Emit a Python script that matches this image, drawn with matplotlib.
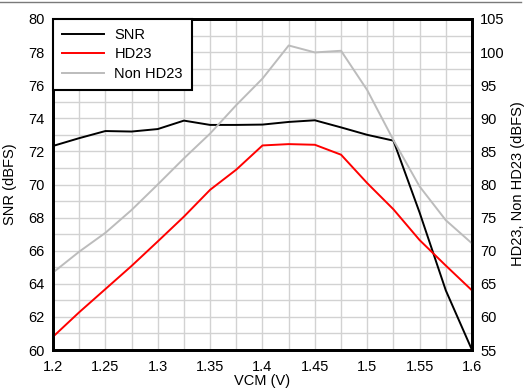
import matplotlib
matplotlib.use('Agg')
import matplotlib.pyplot as plt
from matplotlib.lines import Line2D

plt.rcParams['font.family'] = ['Liberation Sans', 'DejaVu Sans']
plt.rcParams['font.size'] = 10.5

vcm = [1.2, 1.225, 1.25, 1.275, 1.3, 1.325, 1.35, 1.375, 1.4,
       1.425, 1.45, 1.475, 1.5, 1.525, 1.55, 1.575, 1.6]
# SNR (dBFS), left axis
snr = [72.33, 72.8, 73.23, 73.2, 73.35, 73.86, 73.6, 73.6, 73.62,
       73.78, 73.88, 73.45, 73.0, 72.65, 68.3, 63.6, 60.0]
# HD23 (dBFS), right axis
hd23 = [57.0, 60.7, 64.2, 67.7, 71.4, 75.15, 79.2, 82.25, 85.9,
        86.1, 86.0, 84.5, 80.2, 76.25, 71.6, 67.75, 64.0]
# Non HD23 (dBFS), right axis
non_hd23 = [66.7, 69.85, 72.7, 76.15, 80.0, 83.95, 87.7, 92.0, 96.0,
            101.0, 99.95, 100.2, 94.25, 86.7, 79.7, 74.6, 71.1]

fig = plt.figure(figsize=(5.26, 3.89), dpi=100)
ax = fig.add_axes([53/526, 1-350/389, (472-53)/526, (350-19)/389])
ax2 = ax.twinx()

ax.set_xlim(1.2, 1.6)
ax.set_ylim(60, 80)
ax2.set_ylim(55, 105)

ax.set_xticks([1.2, 1.25, 1.3, 1.35, 1.4, 1.45, 1.5, 1.55, 1.6])
ax.set_xticklabels(['1.2', '1.25', '1.3', '1.35', '1.4', '1.45', '1.5', '1.55', '1.6'])
ax.set_xticks([1.225 + 0.05*i for i in range(8)], minor=True)
ax.set_yticks(range(60, 81, 2))
ax.set_yticks(range(61, 80, 2), minor=True)
ax2.set_yticks(range(55, 106, 5))

ax.grid(True, which='both', color='#d2d2d2', lw=1.0)
ax.set_axisbelow(True)
ax.tick_params(which='both', length=0, pad=6)
ax.tick_params(axis='x', pad=7)
ax2.tick_params(length=0, pad=6)

for a in (ax, ax2):
    for s in a.spines.values():
        s.set_linewidth(2)
        s.set_color('black')

l1, = ax.plot(vcm, snr, color='black', lw=1.4)
l2, = ax2.plot(vcm, hd23, color='#ff0000', lw=1.4)
l3, = ax2.plot(vcm, non_hd23, color='#bcbcbc', lw=1.4)

leg = ax2.legend([l1, l2, l3], ['SNR', 'HD23', 'Non HD23'], loc='upper left',
                 borderaxespad=0, fancybox=False, framealpha=1, edgecolor='black',
                 handlelength=2.9, handletextpad=0.7, borderpad=0.6, labelspacing=0.38)
leg.get_frame().set_linewidth(1.5)

fig.text(10/526, 1-184/389, 'SNR (dBFS)', rotation=90, ha='center', va='center')
fig.text(262/526, 1-381/389, 'VCM (V)', ha='center', va='center')
fig.text(518/526, 1-184/389, 'HD23, Non HD23 (dBFS)', rotation=90, ha='center', va='center')

fig.add_artist(Line2D([0, 521/526], [1-2/389, 1-2/389], color='#7a7a7a', lw=1.0))

fig.savefig('out.png', dpi=100)
